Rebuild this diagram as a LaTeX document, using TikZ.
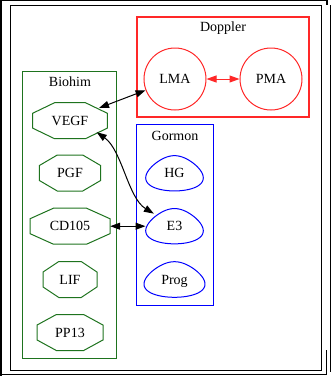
\documentclass[tikz,border=0pt]{standalone}
\usepackage{fontspec}
\setmainfont{Liberation Serif}
\usetikzlibrary{arrows.meta,shapes.geometric,calc}
\definecolor{dgreen}{RGB}{30,115,30}
\definecolor{cblue}{RGB}{0,0,255}
\definecolor{cred}{RGB}{255,40,40}
\newcommand\octnode[4]{% name, y, width, text
  \node[lab, minimum width=#3pt, minimum height=36pt] (#1) at (70,#2) {#4};
  \pgfmathsetmacro\ohw{#3/2}
  \pgfmathsetmacro\ocx{0.207*#3}
  \draw[octline] (70-\ohw,#2-7.45) -- (70-\ocx,#2-18) -- (70+\ocx,#2-18) -- (70+\ohw,#2-7.45)
     -- (70+\ohw,#2+7.45) -- (70+\ocx,#2+18) -- (70-\ocx,#2+18) -- (70-\ohw,#2+7.45) -- cycle;
}
\newcommand\eggnode[6]{% name, x, y, width, height, text
  \node[lab, ellipse, minimum width=#4pt, minimum height=#5pt] (#1) at (#2,#3) {#6};
  \draw[eggline, shift={(#2,#3)}] plot[domain=0:355, samples=72, smooth cycle]
     ({#4/2/1.041*cos(\x)*(1+0.3*sin(\x))}, {#5/2*sin(\x)});
}
\begin{document}
\begin{tikzpicture}[x=1pt,y=-1pt,
  lab/.style={font=\fontsize{14}{16}\selectfont, text height=9.3pt, text depth=0pt, inner sep=0pt},
  frameline/.style={line width=1.2pt, black},
  octline/.style={draw=dgreen, line width=1pt},
  eggline/.style={draw=cblue, line width=1pt},
  dbl/.style={line width=1pt, {Triangle[length=10pt,width=7pt]}-{Triangle[length=10pt,width=7pt]}}
]
\useasboundingbox (0,0) rectangle (332,376);
% outer frame
\draw[line width=2pt] (1,0) -- (1,375.5);
\draw[frameline] (0,0.75) -- (327,0.75) -- (327,5);
\draw[frameline] (330.5,5) -- (330.5,372);
\draw[frameline] (0,374.6) -- (326.6,374.6) -- (326.6,350);
\draw[line width=1pt] (10.5,5) rectangle (321.5,370.5);
% clusters
\draw[cred, line width=1.1pt] (137,17) rectangle (309,117);
\node[lab, anchor=base] (tD) at (223,31.5) {Doppler};
\draw[dgreen, line width=1pt] (22.7,71.7) rectangle (116.7,358.3);
\node[lab, anchor=base] (tB) at (70,86.8) {Biohim};
\draw[cblue, line width=1pt] (136.7,124.7) rectangle (213.3,305);
\node[lab, anchor=base] (tG) at (175,140.8) {Gormon};
% Doppler nodes
\node[lab, circle, draw=cred, line width=1pt, minimum size=62pt] (LMA) at (175,79) {LMA};
\node[lab, circle, draw=cred, line width=1pt, minimum size=62pt] (PMA) at (271,79) {PMA};
% Biohim nodes
\octnode{VEGF}{120.7}{74.6}{VEGF}
\octnode{PGF}{173}{61.4}{PGF}
\octnode{CD105}{226.2}{80}{CD105}
\octnode{LIF}{279.5}{54}{LIF}
\octnode{PP13}{332.5}{66}{PP13}
% Gormon nodes
\eggnode{HG}{174.5}{173.3}{57.6}{35.3}{HG}
\eggnode{E3}{174.5}{226.2}{57.6}{35.3}{E3}
\eggnode{Prog}{174.5}{279.5}{61}{35.6}{Prog}
% edges
\draw[dbl, cred] (LMA) -- (PMA);
\draw[dbl] (LMA) -- ($(VEGF.center)+(29,-12.7)$);
\draw[dbl] ($(VEGF.center)+(26.7,11.5)$) .. controls (122,150) and (128,198) .. (E3);
\draw[dbl] (CD105) -- (E3);
\end{tikzpicture}
\end{document}
